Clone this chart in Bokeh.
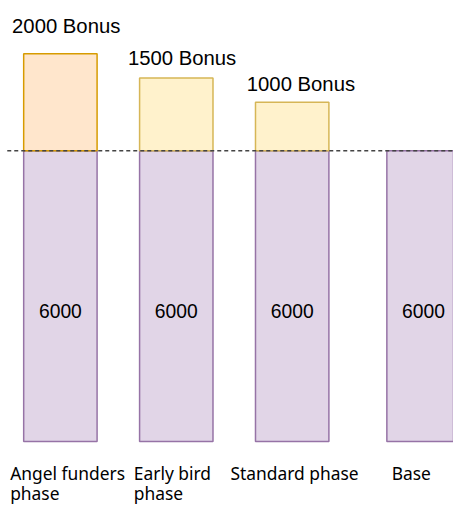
from bokeh.plotting import figure
from bokeh.models import Range1d
from bokeh.core.properties import value
from bokeh.embed import file_html
from bokeh.resources import INLINE

# ---- data ----
categories = ["Angel funders\nphase", "Early bird\nphase", "Standard phase", "Base"]
base_values = [6000, 6000, 6000, 6000]
bonus_values = [2000, 1500, 1000, 0]
bonus_labels = ["2000 Bonus", "1500 Bonus", "1000 Bonus", ""]

# ---- layout (reference pixel coordinates, scaled to fit the window) ----
W, H = 453, 507
REF_W, REF_H = 469, 523
S = W / REF_W
PX = 20.0  # value units per reference pixel
Y_TOP = 455 * PX
bar_x = [62, 182, 302, 438]
bar_w = 76
cat_label_x = [10, 138, 238, 405]
cat_line_y = [-32, -53]  # reference pixels below the axis base, per line
bonus_label_dx = [-12, -12, -9, 0]
bonus_label_gap = [29, 21, 19, 0]


def fs(px):
    return f"{px * S:.1f}px"


p = figure(width=W, height=H, output_backend="svg", toolbar_location=None,
           x_range=Range1d(0, REF_W), y_range=Range1d(Y_TOP - REF_H * PX, Y_TOP),
           min_border=0, outline_line_color=None)
p.axis.visible = False
p.grid.visible = False
p.background_fill_color = "white"
p.border_fill_color = "white"

# base bars
p.vbar(x=bar_x, top=base_values, bottom=0, width=bar_w,
       fill_color="#e1d5e7", line_color="#9673a6", line_width=1.5)

# bonus bars
bonus_fill = ["#ffe6cc", "#fff2cc", "#fff2cc"]
bonus_line = ["#d79b00", "#d6b656", "#d6b656"]
n = 3
p.vbar(x=bar_x[:n], bottom=base_values[:n],
       top=[b + v for b, v in zip(base_values[:n], bonus_values[:n])],
       width=bar_w, fill_color=bonus_fill, line_color=bonus_line, line_width=1.5)

# bonus labels
p.text(x=[bar_x[i] - bar_w / 2 + bonus_label_dx[i] for i in range(n)],
       y=[base_values[i] + bonus_values[i] + bonus_label_gap[i] * PX for i in range(n)],
       text=bonus_labels[:n], text_font=value("Liberation Sans"),
       text_font_size=fs(21), text_align="left", text_baseline="middle",
       text_color="#000000")

# value labels inside base bars
p.text(x=bar_x, y=[v / 2 - 15 * PX for v in base_values],
       text=[str(v) for v in base_values], text_font=value("Liberation Sans"),
       text_font_size=fs(20), text_align="center", text_baseline="middle",
       text_color="#000000")

# category labels (each line drawn separately)
for li, dy in enumerate(cat_line_y):
    xs, texts = [], []
    for x, c in zip(cat_label_x, categories):
        parts = c.split("\n")
        if li < len(parts):
            xs.append(x)
            texts.append(parts[li])
    p.text(x=xs, y=[dy * PX] * len(xs), text=texts,
           text_font=value("Noto Sans"), text_font_size=fs(18),
           text_align="left", text_baseline="middle", text_color="#000000")

# dashed reference line at base level
p.line(x=[7, REF_W], y=[base_values[0], base_values[0]], line_color="#444444",
       line_width=1.5, line_dash="4 3")

open("out.html", "w").write(file_html(p, INLINE))
